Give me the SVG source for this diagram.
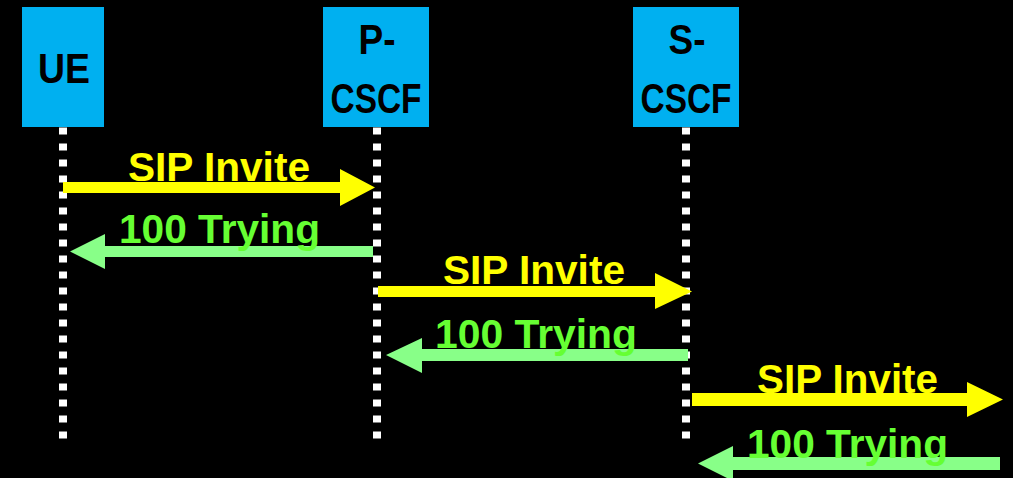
<svg xmlns="http://www.w3.org/2000/svg" width="1013" height="478" viewBox="0 0 1013 478">
  <style>
    .box { fill: #00B0F0; }
    .lbl { font-family: "Liberation Sans", Arial, sans-serif; font-weight: bold; font-size: 43px; fill: #000; text-anchor: middle; }
    .life { stroke: #FFFFFF; stroke-width: 8; stroke-dasharray: 7 9; fill: none; }
    .req { fill: #FFFF00; }
    .resp { fill: #88FF88; }
    .msg { font-family: "Liberation Sans", Arial, sans-serif; font-weight: bold; font-size: 41px; }
    .req-t { fill: #FFFF00; }
    .resp-t { fill: #66FF33; }
  </style>
  <rect width="1013" height="478" fill="#000"/>

  <!-- lifelines -->
  <g id="lifelines">
    <line class="life" x1="63" y1="127.5" x2="63" y2="440"/>
    <line class="life" x1="377" y1="127.5" x2="377" y2="440"/>
    <line class="life" x1="686" y1="127.5" x2="686" y2="440"/>
  </g>

  <!-- participants -->
  <g id="ue">
    <rect class="box" x="22" y="7" width="82" height="120"/>
    <text class="lbl" x="64" y="83" textLength="52" lengthAdjust="spacingAndGlyphs">UE</text>
  </g>
  <g id="p-cscf">
    <rect class="box" x="323" y="7" width="106" height="120"/>
    <text class="lbl" x="377" y="54" textLength="37" lengthAdjust="spacingAndGlyphs">P-</text>
    <text class="lbl" x="376" y="113" textLength="91" lengthAdjust="spacingAndGlyphs">CSCF</text>
  </g>
  <g id="s-cscf">
    <rect class="box" x="633" y="7" width="106" height="120"/>
    <text class="lbl" x="687" y="54" textLength="37" lengthAdjust="spacingAndGlyphs">S-</text>
    <text class="lbl" x="686" y="113" textLength="91" lengthAdjust="spacingAndGlyphs">CSCF</text>
  </g>

  <!-- messages -->
  <g id="connectors">
    <polygon class="req" points="63,182 340,182 340,169 375,187.5 340,206 340,193 63,193"/>
    <text class="msg req-t" x="128" y="181" textLength="182" lengthAdjust="spacingAndGlyphs">SIP Invite</text>

    <polygon class="resp" points="373,246 105,246 105,234 70,251.5 105,269 105,257 373,257"/>
    <text class="msg resp-t" x="119" y="243" textLength="201" lengthAdjust="spacingAndGlyphs">100 Trying</text>

    <polygon class="req" points="378,286 655,286 655,273 692,291.5 655,309 655,297 378,297"/>
    <text class="msg req-t" x="443" y="284" textLength="182" lengthAdjust="spacingAndGlyphs">SIP Invite</text>

    <polygon class="resp" points="688,349 422,349 422,338 386,355 422,373 422,361 688,361"/>
    <text class="msg resp-t" x="435" y="348" textLength="202" lengthAdjust="spacingAndGlyphs">100 Trying</text>

    <polygon class="req" points="692,393 967,393 967,382 1003,399.5 967,417 967,406 692,406"/>
    <text class="msg req-t" x="757" y="393" textLength="181" lengthAdjust="spacingAndGlyphs">SIP Invite</text>

    <polygon class="resp" points="1000,457 733,457 733,446 698,463.5 733,481 733,470 1000,470"/>
    <text class="msg resp-t" x="747" y="458" textLength="201" lengthAdjust="spacingAndGlyphs">100 Trying</text>
  </g>
</svg>
